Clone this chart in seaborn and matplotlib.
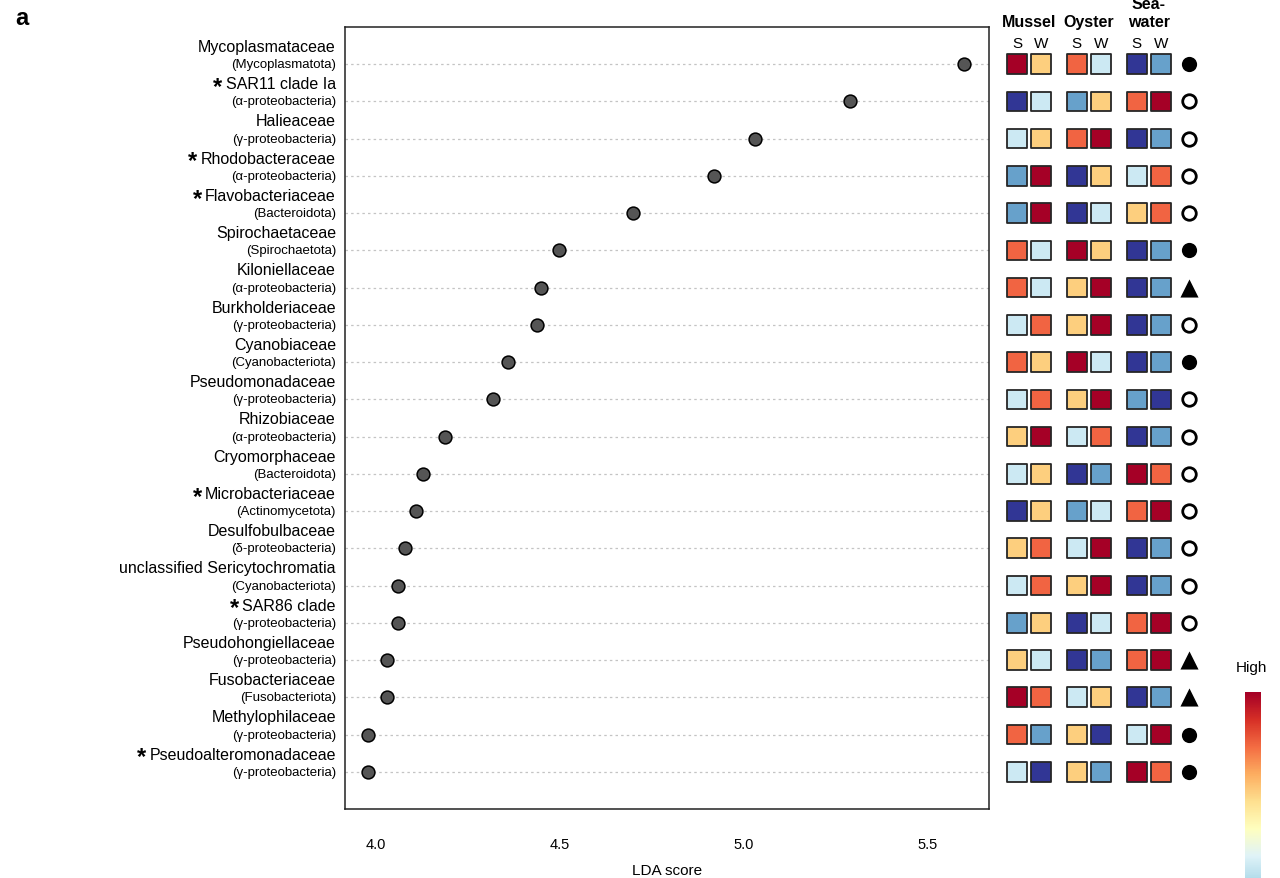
"""
LDA score dot plot with per-habitat rank squares (mussel / oyster / seawater).
"""

import numpy as np
import pandas as pd
import matplotlib
matplotlib.use("Agg")
import matplotlib.pyplot as plt
import seaborn as sns

families = [
    "Mycoplasmataceae", "SAR11 clade Ia", "Halieaceae", "Rhodobacteraceae",
    "Flavobacteriaceae", "Spirochaetaceae", "Kiloniellaceae", "Burkholderiaceae",
    "Cyanobiaceae", "Pseudomonadaceae", "Rhizobiaceae", "Cryomorphaceae",
    "Microbacteriaceae", "Desulfobulbaceae", "unclassified Sericytochromatia",
    "SAR86 clade", "Pseudohongiellaceae", "Fusobacteriaceae", "Methylophilaceae",
    "Pseudoalteromonadaceae",
]
phyla = [
    "(Mycoplasmatota)", "(α-proteobacteria)", "(γ-proteobacteria)", "(α-proteobacteria)",
    "(Bacteroidota)", "(Spirochaetota)", "(α-proteobacteria)", "(γ-proteobacteria)",
    "(Cyanobacteriota)", "(γ-proteobacteria)", "(α-proteobacteria)", "(Bacteroidota)",
    "(Actinomycetota)", "(δ-proteobacteria)", "(Cyanobacteriota)", "(γ-proteobacteria)",
    "(γ-proteobacteria)", "(Fusobacteriota)", "(γ-proteobacteria)", "(γ-proteobacteria)",
]
starred = [False, True, False, True, True, False, False, False, False, False,
           False, False, True, False, False, True, False, False, False, True]
lda_scores = [5.60, 5.29, 5.03, 4.92, 4.70, 4.50, 4.45, 4.44, 4.36, 4.32,
              4.19, 4.13, 4.11, 4.08, 4.06, 4.06, 4.03, 4.03, 3.98, 3.98]

# abundance rank across the six sample groups (6 = highest)
mussel_s = [6, 1, 3, 2, 2, 5, 5, 3, 5, 3, 4, 3, 1, 4, 3, 2, 4, 6, 5, 3]
mussel_w = [4, 3, 4, 6, 6, 3, 3, 5, 4, 5, 6, 4, 4, 5, 5, 4, 3, 5, 2, 1]
oyster_s = [5, 2, 5, 1, 1, 6, 4, 4, 6, 4, 3, 1, 2, 3, 4, 1, 1, 3, 4, 4]
oyster_w = [3, 4, 6, 4, 3, 4, 6, 6, 3, 6, 5, 2, 3, 6, 6, 3, 2, 4, 1, 2]
seawater_s = [1, 5, 1, 3, 4, 1, 1, 1, 1, 2, 1, 6, 5, 1, 1, 5, 5, 1, 3, 6]
seawater_w = [2, 6, 2, 5, 5, 2, 2, 2, 2, 1, 2, 5, 6, 2, 2, 6, 6, 2, 6, 5]
symbols = ["filled", "open", "open", "open", "open", "filled", "triangle", "open",
           "filled", "open", "open", "open", "open", "open", "open", "open",
           "triangle", "triangle", "filled", "filled"]

group_names = ["Mussel", "Oyster", "Sea-\nwater"]
sub_labels = ["S", "W", "S", "W", "S", "W"]
rank_colors = ["#313695", "#67a1cb", "#cce9f3", "#fdcf7e", "#f16442", "#a50026"]

# horizontal slot of each square column / symbol column in the right panel
col_pos = [0.71, 1.71, 3.21, 4.21, 5.71, 6.71]
sym_pos = 7.87


def draw_scores(ax):
    """Dot plot of LDA scores with two-line taxon labels."""
    rows = np.arange(len(families))
    df = pd.DataFrame({"score": lda_scores, "row": rows})
    ax.set_axisbelow(True)
    ax.grid(axis="y", linestyle=(0, (2, 2.5)), color="#c4c4c4", linewidth=0.9)
    sns.scatterplot(data=df, x="score", y="row", ax=ax, s=85, color="#555555",
                    edgecolor="black", linewidth=1.1, legend=False, zorder=3)
    ax.set_xlim(3.917, 5.667)
    ax.set_ylim(len(families), -1)
    ax.set_yticks(rows)
    ax.set_yticklabels([])
    ax.tick_params(axis="y", length=0)
    ax.set_xticks([4.0, 4.5, 5.0, 5.5])
    ax.set_xticklabels(["4.0", "4.5", "5.0", "5.5"])
    ax.tick_params(axis="x", length=7, width=1, pad=13, labelsize=10.5,
                   color="#222222")
    ax.set_xlabel("LDA score", fontsize=11, labelpad=9)
    ax.set_ylabel("")
    for sp in ax.spines.values():
        sp.set_visible(True)
        sp.set_color("#222222")
        sp.set_linewidth(1.1)

    trans = ax.get_yaxis_transform()
    for i, (fam, phy, star) in enumerate(zip(families, phyla, starred)):
        t = ax.text(-0.014, i - 0.475, fam, transform=trans, ha="right",
                    va="center", fontsize=11.5)
        ax.text(-0.014, i, phy, transform=trans, ha="right", va="center",
                fontsize=9.5)
        if star:
            ax.annotate("*", xy=(0, 0.5), xycoords=t, xytext=(-2.5, -2),
                        textcoords="offset points", ha="right", va="center",
                        fontsize=17, fontweight="bold")


def draw_ranks(ax):
    """Coloured rank squares plus the pattern symbol for each taxon."""
    cols = [mussel_s, mussel_w, oyster_s, oyster_w, seawater_s, seawater_w]
    recs = []
    for c, vals in enumerate(cols):
        for r, v in enumerate(vals):
            recs.append({"x": col_pos[c], "row": r, "rank": v})
    df = pd.DataFrame(recs)
    pal = {k + 1: rank_colors[k] for k in range(6)}
    sns.scatterplot(data=df, x="x", y="row", hue="rank", palette=pal, marker="s",
                    s=200, edgecolor="#262626", linewidth=1.3, legend=False, ax=ax)

    sym = pd.DataFrame({"x": sym_pos, "row": np.arange(len(symbols)), "kind": symbols})
    filled = sym[sym.kind == "filled"]
    opened = sym[sym.kind == "open"]
    tri = sym[sym.kind == "triangle"]
    ax.scatter(filled.x, filled.row, s=120, marker="o", color="black", linewidths=0)
    ax.scatter(opened.x, opened.row, s=95, marker="o", facecolor="white",
               edgecolor="black", linewidths=2.0)
    ax.scatter(tri.x, tri.row, s=170, marker="^", color="black", linewidths=0)

    ax.set_xlim(0, 8.55)
    ax.set_ylim(len(families), -1)
    ax.axis("off")

    tr = ax.get_xaxis_transform()
    for g, name in enumerate(group_names):
        xc = (col_pos[2 * g] + col_pos[2 * g + 1]) / 2
        if "\n" in name:
            top, bottom = name.split("\n")
            ax.text(xc, 1.0295, top, transform=tr, ha="center", va="center",
                    fontsize=11.5, fontweight="bold", clip_on=False)
            ax.text(xc, 1.0065, bottom, transform=tr, ha="center", va="center",
                    fontsize=11.5, fontweight="bold", clip_on=False)
        else:
            ax.text(xc, 1.0065, name, transform=tr, ha="center", va="center",
                    fontsize=11.5, fontweight="bold", clip_on=False)
    for x, lab in zip(col_pos, sub_labels):
        ax.text(x, 0.979, lab, transform=tr, ha="center", va="center",
                fontsize=11, clip_on=False)


def draw_colorbar(fig):
    """Partial High-to-Low colour key, cut at the bottom edge."""
    cax = fig.add_axes([0.9727, 0.0, 0.0125, 0.2116])
    grad = np.linspace(1.0, 0.32, 256).reshape(-1, 1)
    cax.imshow(grad, aspect="auto", cmap="RdYlBu_r", vmin=0, vmax=1)
    cax.axis("off")
    fig.text(0.9773, 0.2405, "High", ha="center", va="center", fontsize=11)


if __name__ == "__main__":
    sns.set_style("white")
    plt.rcParams["font.family"] = ["Liberation Sans", "DejaVu Sans"]
    plt.rcParams["text.color"] = "black"
    plt.rcParams["axes.labelcolor"] = "black"
    plt.rcParams["xtick.color"] = "black"
    fig = plt.figure(figsize=(12.8, 8.79), dpi=100)
    ax = fig.add_axes([0.2695, 0.0785, 0.5031, 0.8897])
    ax2 = fig.add_axes([0.78125, 0.0785, 0.16, 0.8897])
    draw_scores(ax)
    draw_ranks(ax2)
    draw_colorbar(fig)
    fig.text(0.012, 0.979, "a", fontsize=17, fontweight="bold", ha="left", va="center")
    fig.savefig("out.png", dpi=100)
